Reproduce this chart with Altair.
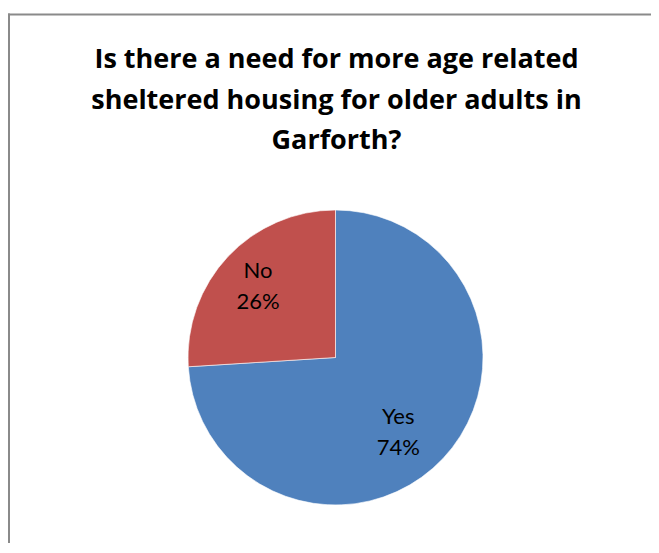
import altair as alt
import pandas as pd

categories = ["Yes", "No"]
values = [74, 26]
colors = ["#4F81BD", "#C0504D"]
title_lines = [
    "Is there a need for more age related",
    "sheltered housing for older adults in",
    "Garforth?",
]

df = pd.DataFrame({
    "category": categories,
    "value": values,
    "order": list(range(len(categories))),
})
df["label"] = [f"{c}\n{v}%" for c, v in zip(categories, values)]

W, H = 643, 535
CX, CY = 327.5, 349.5
TOTAL = sum(values)

arcs = alt.Chart(df).mark_arc(outerRadius=147.5, stroke="white", strokeWidth=0.6).encode(
    theta=alt.Theta("value:Q", stack=True, scale=alt.Scale(domain=[0, TOTAL])),
    order=alt.Order("order:Q"),
    color=alt.Color("category:N",
                    scale=alt.Scale(domain=categories, range=colors),
                    legend=None),
    x=alt.value(CX),
    y=alt.value(CY),
)

text_style = dict(font="Lato", fontSize=22, color="black", lineBreak="\n",
                  lineHeight=31, align="center", baseline="middle")

label_base = alt.Chart(df).transform_window(
    cum="sum(value)", sort=[alt.SortField("order")]
).transform_calculate(
    mid="datum.cum - datum.value / 2"
).encode(
    theta=alt.Theta("mid:Q", stack=False, scale=alt.Scale(domain=[0, TOTAL])),
    text="label:N",
    x=alt.value(CX),
    y=alt.value(CY),
)

label_no = label_base.mark_text(radius=105, dx=-1, dy=-15, **text_style).transform_filter(
    alt.datum.category == "No"
)
label_yes = label_base.mark_text(radius=97, dx=-8, dy=-6.5, **text_style).transform_filter(
    alt.datum.category == "Yes"
)

frame_df = pd.DataFrame({"a": [0]})
left_border = alt.Chart(frame_df).mark_rule(color="#8a8a8a", strokeWidth=2).encode(
    x=alt.value(1), y=alt.value(5.5), y2=alt.value(H + 20)
)
top_border = alt.Chart(frame_df).mark_rule(color="#8a8a8a", strokeWidth=2).encode(
    x=alt.value(0), x2=alt.value(W + 20), y=alt.value(6.5)
)

chart = alt.layer(left_border, top_border, arcs, label_no, label_yes).properties(
    width=W,
    height=H,
    padding=0,
    autosize=alt.AutoSizeParams(type="none"),
    title=alt.TitleParams(
        text=title_lines,
        font="Open Sans",
        fontSize=27,
        fontWeight="bold",
        color="black",
        anchor="middle",
        lineHeight=40.5,
        offset=-147,
        dx=7,
    ),
).configure_view(stroke=None)

chart.save("out.html", embed_options={"renderer": "svg", "actions": False})
